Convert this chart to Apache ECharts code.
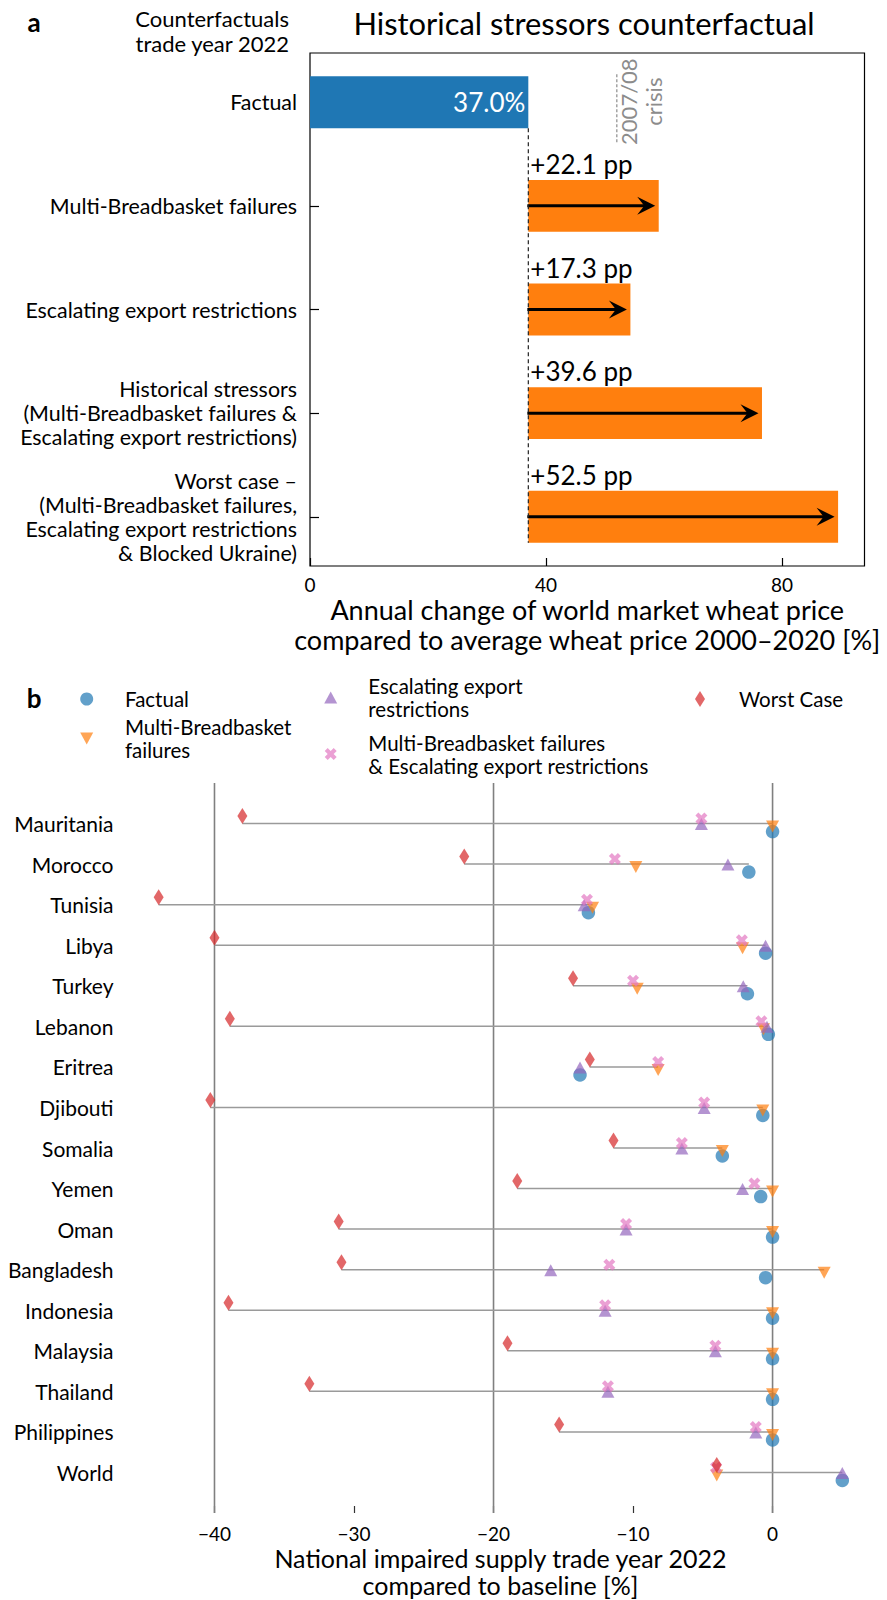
<!DOCTYPE html>
<html>
<head>
<meta charset="utf-8">
<script src="https://cdn.jsdelivr.net/npm/echarts@6/dist/echarts.min.js"></script>
<style>
  html, body { margin: 0; padding: 0; background: #ffffff; }
  #chart { width: 887px; height: 1600px; }
</style>
</head>
<body>
<div id="chart"></div>
<script>
// ---------- Panel a: world market wheat price, trade year 2022 ----------
const scenarioLabels = [
  'Factual',
  'Multi-Breadbasket failures',
  'Escalating export restrictions',
  'Historical stressors\n(Multi-Breadbasket failures &\nEscalating export restrictions)',
  'Worst case \u2013\n(Multi-Breadbasket failures,\nEscalating export restrictions\n& Blocked Ukraine)'
];
const factualPriceChange = 37.0;                  // % vs. 2000-2020 average
const priceIncreasePP = [22.1, 17.3, 39.6, 52.5]; // percentage points on top of factual
const crisisPriceChange = 52;                     // 2007/08 crisis level
const priceTicks = [0, 40, 80];

// ---------- Panel b: national impaired supply vs. baseline [%] ----------
const countries = [
  'Mauritania', 'Morocco', 'Tunisia', 'Libya', 'Turkey', 'Lebanon', 'Eritrea',
  'Djibouti', 'Somalia', 'Yemen', 'Oman', 'Bangladesh', 'Indonesia', 'Malaysia',
  'Thailand', 'Philippines', 'World'
];
const factual            = [0.0, -1.7, -13.2, -0.5, -1.8, -0.3, -13.8, -0.7, -3.6, -0.85, 0.0, -0.5, 0.0, 0.0, 0.0, 0.0, 5.0];
const multiBreadbasket   = [0.0, -9.8, -12.9, -2.15, -9.7, -0.65, -8.2, -0.7, -3.6, 0.0, 0.0, 3.7, 0.0, 0.0, 0.0, 0.0, -4.0];
const exportRestrictions = [-5.1, -3.2, -13.5, -0.5, -2.1, -0.4, -13.8, -4.9, -6.5, -2.15, -10.5, -15.9, -12.0, -4.1, -11.8, -1.2, 5.0];
const combinedStressors  = [-5.1, -11.3, -13.3, -2.2, -10.0, -0.8, -8.2, -4.9, -6.5, -1.3, -10.5, -11.7, -12.0, -4.1, -11.8, -1.2, -4.05];
const worstCase          = [-38.0, -22.1, -44.0, -40.0, -14.3, -38.9, -13.1, -40.3, -11.4, -18.3, -31.1, -30.9, -39.0, -19.0, -33.2, -15.3, -4.0];
const supplyTicks = [-40, -30, -20, -10, 0];
const referenceLines = [-40, -20, 0];

const FONT = 'Lato, "DejaVu Sans", sans-serif';
const BAR_HALF = 0.25;

// x range of panel a: bars start at 0, 5 % headroom on the longest bar
const priceMax = (factualPriceChange + Math.max(...priceIncreasePP)) * 1.05;

// x range of panel b: 5 % padding around all scenario values
const allSupply = [].concat(factual, multiBreadbasket, exportRestrictions, combinedStressors, worstCase);
const supplyLo = Math.min(...allSupply), supplyHi = Math.max(...allSupply);
const supplyPad = (supplyHi - supplyLo) * 0.05;

const rowsA = scenarioLabels.map((_, i) => i);
const rowsB = countries.map((_, i) => i);

// symbol shapes
const SYM_DOWN = 'path://M0,0L13,0L6.5,12Z';
const SYM_UP = 'path://M6.5,0L13,12L0,12Z';
const SYM_X = 'path://M42.4,0L28.3,14.1L14.1,0L0,14.1L14.1,28.3L0,42.4L14.1,56.6L28.3,42.4L42.4,56.6L56.6,42.4L42.4,28.3L56.6,14.1Z';
const SYM_DIAMOND = 'path://M5,0L10,8L5,16L0,8Z';

const legendText = {
  'Factual': 'Factual',
  'Multi-Breadbasket failures': 'Multi-Breadbasket\nfailures',
  'Escalating export restrictions': 'Escalating export\nrestrictions',
  'Multi-Breadbasket failures & Escalating export restrictions': 'Multi-Breadbasket failures\n& Escalating export restrictions',
  'Worst Case': 'Worst Case'
};

function minus(v) { return v < 0 ? '\u2212' + Math.abs(v) : String(v); }

// ---------- render helpers ----------
function renderFactualBar(params, api) {
  const value = api.value(0), row = api.value(1);
  const tl = api.coord([0, row - BAR_HALF]);
  const br = api.coord([value, row + BAR_HALF]);
  return {
    type: 'group',
    children: [
      { type: 'rect', shape: { x: tl[0], y: tl[1], width: br[0] - tl[0], height: br[1] - tl[1] },
        style: { fill: '#1f77b4' } },
      { type: 'text', x: br[0] - 3, y: (tl[1] + br[1]) / 2,
        style: { text: value.toFixed(1) + '%', fill: '#ffffff', fontSize: 26, fontFamily: FONT,
                 align: 'right', verticalAlign: 'middle' } }
    ]
  };
}

function renderCounterfactual(params, api) {
  const start = api.value(0), inc = api.value(1), row = api.value(2);
  const end = start + inc;
  const tl = api.coord([start, row - BAR_HALF]);
  const br = api.coord([end, row + BAR_HALF]);
  const y = api.coord([start, row])[1];
  const tipX = br[0] - 3.5;
  const headLen = 18, headHalf = 9, notch = 11;
  return {
    type: 'group',
    children: [
      { type: 'rect', shape: { x: tl[0], y: tl[1], width: br[0] - tl[0], height: br[1] - tl[1] },
        style: { fill: '#ff7f0e' } },
      { type: 'line', shape: { x1: tl[0] - 1, y1: y, x2: tipX - notch + 1, y2: y },
        style: { stroke: '#000000', lineWidth: 3 } },
      { type: 'polygon',
        shape: { points: [[tipX, y], [tipX - headLen, y - headHalf], [tipX - notch, y], [tipX - headLen, y + headHalf]] },
        style: { fill: '#000000' } },
      { type: 'text', x: tl[0] + 2, y: tl[1] - 16,
        style: { text: '+' + inc.toFixed(1) + ' pp', fill: '#000000', fontSize: 26, fontFamily: FONT,
                 align: 'left', verticalAlign: 'middle' } }
    ]
  };
}

function renderBaseline(params, api) {
  const v = api.value(0), first = api.value(1), last = api.value(2);
  const p0 = api.coord([v, first + BAR_HALF]);
  const p1 = api.coord([v, last + BAR_HALF]);
  return { type: 'line', shape: { x1: p0[0], y1: p0[1], x2: p1[0], y2: p1[1] },
           style: { stroke: '#222222', lineWidth: 1.2, lineDash: [4, 3] } };
}

function renderCrisis(params, api) {
  const v = api.value(0);
  const p0 = api.coord([v, -0.27]);
  const p1 = api.coord([v, 0.39]);
  return {
    type: 'group',
    children: [
      { type: 'line', shape: { x1: p0[0], y1: p0[1], x2: p1[0], y2: p1[1] },
        style: { stroke: '#8c8c8c', lineWidth: 1.2, lineDash: [3, 2] } },
      { type: 'text', x: p0[0] - 1, y: p1[1] - 41, rotation: Math.PI / 2,
        style: { text: '2007/08\ncrisis', fill: '#8c8c8c', fontSize: 22, lineHeight: 25, fontFamily: FONT,
                 align: 'center', verticalAlign: 'top' } }
    ]
  };
}

function renderRange(params, api) {
  const lo = api.value(0), hi = api.value(1), row = api.value(2);
  const p0 = api.coord([lo, row]);
  const p1 = api.coord([hi, row]);
  return { type: 'line', shape: { x1: p0[0], y1: p0[1], x2: p1[0], y2: p1[1] },
           style: { stroke: '#9a9a9a', lineWidth: 1.5 } };
}

function renderReference(params, api) {
  const v = api.value(0);
  const p0 = api.coord([v, -1]);
  const p1 = api.coord([v, countries.length]);
  return { type: 'line', shape: { x1: p0[0], y1: p0[1], x2: p1[0], y2: p1[1] },
           style: { stroke: '#808080', lineWidth: 1.6 } };
}

function scatter(name, values, symbol, size, color, dy) {
  return {
    name: name, type: 'scatter', xAxisIndex: 1, yAxisIndex: 1,
    data: values.map((v, i) => [v, i]),
    symbol: symbol, symbolSize: size, symbolOffset: [0, dy], symbolKeepAspect: false,
    itemStyle: { color: color, opacity: 1 },
    emphasis: { disabled: true }, silent: true
  };
}

// one legend box per entry; left = left edge of the icon
function legendFor(name, left, top, w, h) {
  return {
    data: [name], left: left, top: top, orient: 'horizontal', padding: 0,
    itemWidth: w, itemHeight: h, selectedMode: false, symbolKeepAspect: true,
    formatter: n => legendText[n],
    textStyle: { fontSize: 20.5, lineHeight: 23, color: '#000000', fontFamily: FONT }
  };
}

const chart = echarts.init(document.getElementById('chart'), null, { renderer: 'svg' });

chart.setOption({
  animation: false,
  backgroundColor: '#ffffff',
  textStyle: { fontFamily: FONT },
  grid: [
    { left: 310, top: 53, width: 554.5, height: 513, show: true, borderColor: '#000000', borderWidth: 1.2 },
    { left: 124.5, top: 783, width: 752, height: 730 }
  ],
  xAxis: [
    {
      gridIndex: 0, type: 'value', min: 0, max: priceMax,
      axisLine: { show: false, onZero: false }, splitLine: { show: false },
      axisTick: { show: true, inside: true, length: 8, customValues: priceTicks, lineStyle: { color: '#000', width: 1.2 } },
      axisLabel: { customValues: priceTicks, margin: 9, fontSize: 19, color: '#000', fontFamily: FONT },
      name: 'Annual change of world market wheat price\ncompared to average wheat price 2000\u20132020 [%]',
      nameLocation: 'middle', nameGap: 28,
      nameTextStyle: { fontSize: 27, lineHeight: 30, color: '#000', fontFamily: FONT, verticalAlign: 'top' }
    },
    {
      gridIndex: 1, type: 'value', min: supplyLo - supplyPad, max: supplyHi + supplyPad,
      axisLine: { show: false, onZero: false }, splitLine: { show: false },
      axisTick: { show: true, inside: true, length: 7, customValues: supplyTicks, lineStyle: { color: '#333', width: 1.2 } },
      axisLabel: { customValues: supplyTicks, formatter: minus, margin: 11, fontSize: 19, color: '#000', fontFamily: FONT },
      name: 'National impaired supply trade year 2022\ncompared to baseline [%]',
      nameLocation: 'middle', nameGap: 27.5,
      nameTextStyle: { fontSize: 25, lineHeight: 27.5, color: '#000', fontFamily: FONT, verticalAlign: 'top' }
    }
  ],
  yAxis: [
    {
      gridIndex: 0, type: 'value', inverse: true, min: -0.475, max: scenarioLabels.length - 1 + 0.475,
      axisLine: { show: false, onZero: false }, splitLine: { show: false },
      axisTick: { show: true, inside: true, length: 9, customValues: rowsA, lineStyle: { color: '#000', width: 1.2 } },
      axisLabel: { customValues: rowsA, formatter: v => scenarioLabels[v], margin: 13, fontSize: 21.4,
                   lineHeight: 24, color: '#000', align: 'right', fontFamily: FONT }
    },
    {
      gridIndex: 1, type: 'value', inverse: true, min: -1, max: countries.length,
      axisLine: { show: false, onZero: false }, splitLine: { show: false }, axisTick: { show: false },
      axisLabel: { customValues: rowsB, formatter: v => countries[v], margin: 11, fontSize: 21,
                   color: '#000', align: 'right', fontFamily: FONT }
    }
  ],
  legend: [
    legendFor('Factual', 80.2, 687.5, 66.6, 13),
    legendFor('Multi-Breadbasket failures', 80.2, 715.5, 66.6, 12),
    legendFor('Escalating export restrictions', 324.2, 674.5, 65.2, 12),
    legendFor('Multi-Breadbasket failures & Escalating export restrictions', 324.7, 731, 65.2, 12),
    legendFor('Worst Case', 695, 687.5, 68, 16)
  ],
  graphic: [
    { type: 'text', x: 34, y: 22, style: { text: 'a', fontSize: 26, fontWeight: 'bold', fill: '#000', fontFamily: FONT, align: 'center', verticalAlign: 'middle' } },
    { type: 'text', x: 34, y: 698, style: { text: 'b', fontSize: 26, fontWeight: 'bold', fill: '#000', fontFamily: FONT, align: 'center', verticalAlign: 'middle' } },
    { type: 'text', x: 584, y: 23, style: { text: 'Historical stressors counterfactual', fontSize: 30.9, fill: '#000', fontFamily: FONT, align: 'center', verticalAlign: 'middle' } },
    { type: 'text', x: 289, y: 6.5, style: { text: 'Counterfactuals\ntrade year 2022', fontSize: 22, lineHeight: 24.5, fill: '#000', fontFamily: FONT, align: 'right', verticalAlign: 'top' } }
  ],
  series: [
    // panel a
    { name: 'Factual price change', type: 'custom', xAxisIndex: 0, yAxisIndex: 0, renderItem: renderFactualBar,
      data: [[factualPriceChange, 0]], silent: true },
    { name: 'Counterfactual increase', type: 'custom', xAxisIndex: 0, yAxisIndex: 0, renderItem: renderCounterfactual,
      data: priceIncreasePP.map((v, i) => [factualPriceChange, v, i + 1]), silent: true },
    { name: 'Factual level', type: 'custom', xAxisIndex: 0, yAxisIndex: 0, renderItem: renderBaseline,
      data: [[factualPriceChange, 0, scenarioLabels.length - 1]], silent: true, z: 3 },
    { name: 'Crisis level', type: 'custom', xAxisIndex: 0, yAxisIndex: 0, renderItem: renderCrisis,
      data: [[crisisPriceChange]], silent: true },
    // panel b
    { name: 'Reference lines', type: 'custom', xAxisIndex: 1, yAxisIndex: 1, renderItem: renderReference,
      data: referenceLines.map(v => [v]), silent: true },
    { name: 'Range', type: 'custom', xAxisIndex: 1, yAxisIndex: 1, renderItem: renderRange,
      data: rowsB.map(i => [worstCase[i], Math.max(factual[i], multiBreadbasket[i], exportRestrictions[i], combinedStressors[i], worstCase[i]), i]),
      silent: true },
    scatter('Factual', factual, 'circle', 13.5, 'rgba(31,119,180,0.7)', 8),
    scatter('Multi-Breadbasket failures', multiBreadbasket, SYM_DOWN, [13, 12], 'rgba(255,127,14,0.7)', 3),
    scatter('Escalating export restrictions', exportRestrictions, SYM_UP, [13, 12], 'rgba(148,103,189,0.7)', 0.5),
    scatter('Multi-Breadbasket failures & Escalating export restrictions', combinedStressors, SYM_X, [12, 12], 'rgba(227,119,194,0.7)', -5),
    scatter('Worst Case', worstCase, SYM_DIAMOND, [10, 16], 'rgba(214,39,40,0.7)', -7.5)
  ]
});
</script>
</body>
</html>
